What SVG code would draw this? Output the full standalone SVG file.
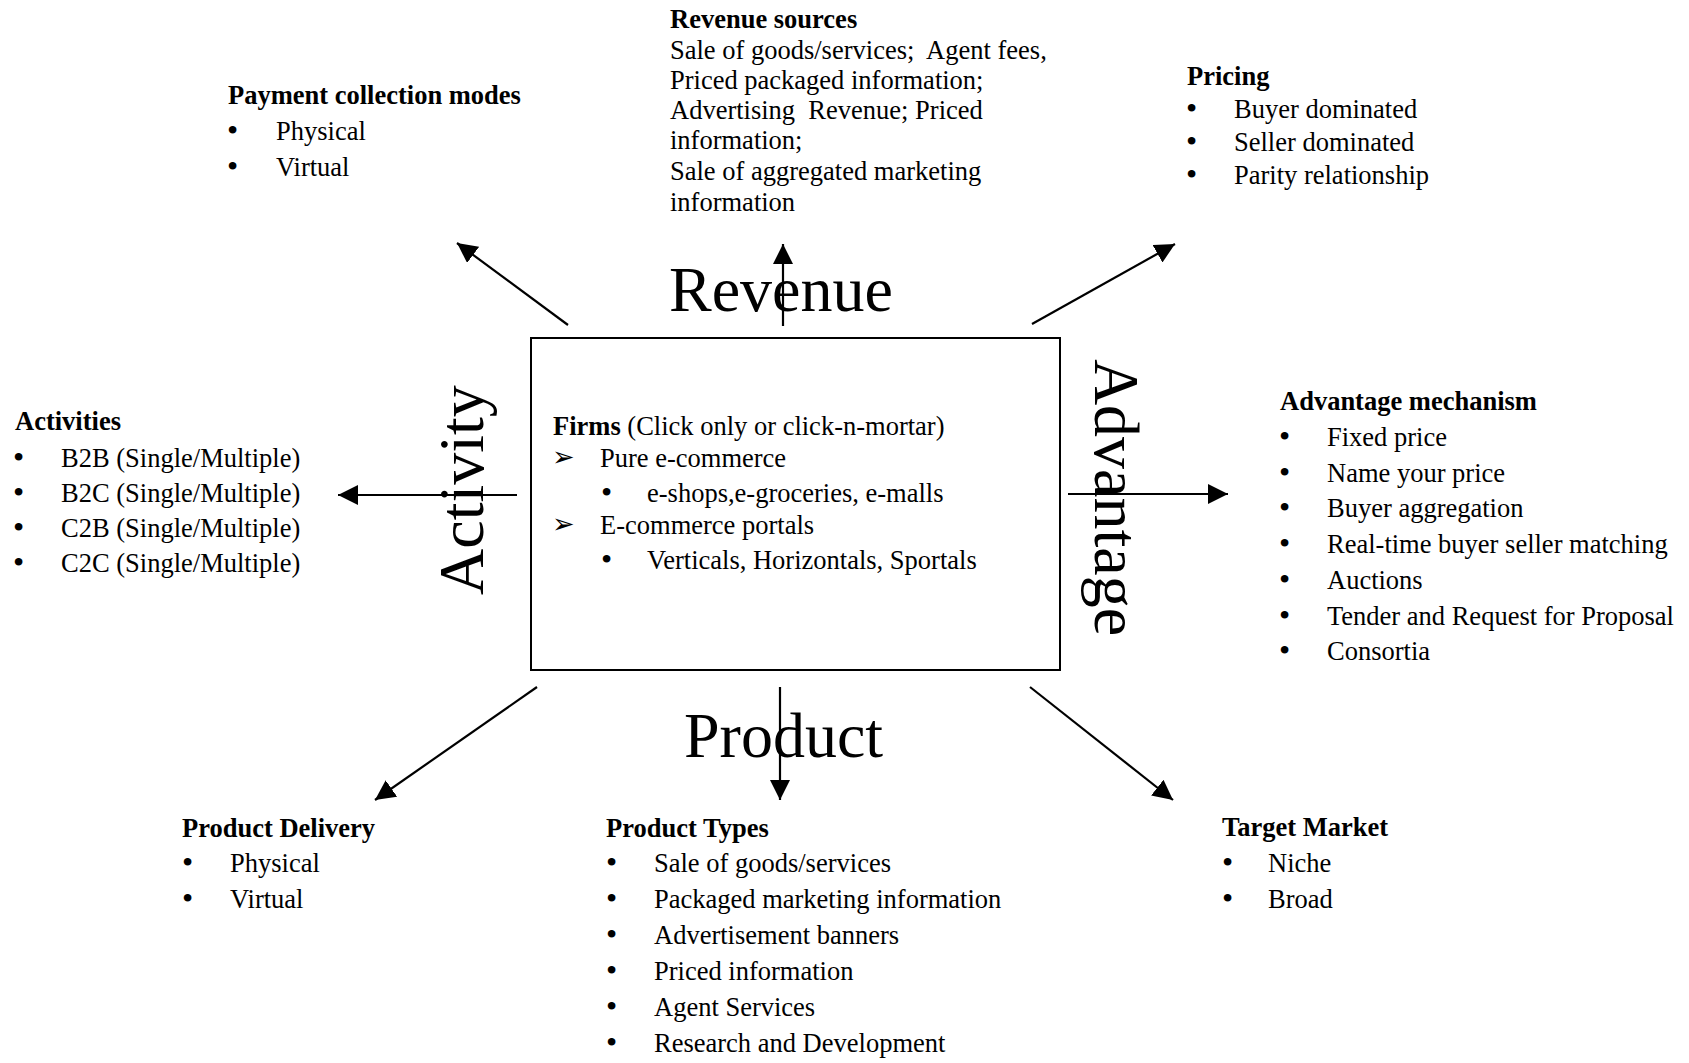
<svg xmlns="http://www.w3.org/2000/svg" width="1689" height="1063" viewBox="0 0 1689 1063">
<style>
text{font-family:"Liberation Serif","Times New Roman",serif;font-size:26.5px;fill:#000}
.h{font-weight:bold}
.big{font-size:64px}
.pre{white-space:pre}
.b{font-size:32px}
.ar{font-family:"DejaVu Sans",sans-serif;font-size:27px}
.conn line{stroke:#000;stroke-width:2.2;marker-end:url(#ah)}
</style>
<defs>
<marker id="ah" viewBox="0 0 20 20" refX="20" refY="10" markerWidth="20" markerHeight="20" markerUnits="userSpaceOnUse" orient="auto">
<path d="M0,0 L20,10 L0,20 z" fill="#000"/>
</marker>
</defs>
<rect width="1689" height="1063" fill="#fff"/>

<g id="firms">
<rect x="531" y="338" width="529" height="332" fill="none" stroke="#000" stroke-width="2"/>
<text x="553" y="435"><tspan class="h">Firms</tspan> (Click only or click-n-mortar)</text>
<text class="ar" x="552" y="466">➢</text>
<text x="600" y="466.5">Pure e-commerce</text>
<text class="b" x="601" y="503">•</text>
<text x="647" y="502">e-shops,e-groceries, e-malls</text>
<text class="ar" x="552" y="533">➢</text>
<text x="600" y="533.5">E-commerce portals</text>
<text class="b" x="601" y="570">•</text>
<text x="647" y="569">Verticals, Horizontals, Sportals</text>
</g>

<g id="label-revenue"><text class="big" x="669" y="311">Revenue</text></g>
<g id="label-product"><text class="big" x="684" y="757">Product</text></g>
<g id="label-activity"><text class="big" text-anchor="middle" transform="translate(483,490) rotate(-90)">Activity</text></g>
<g id="label-advantage"><text class="big" text-anchor="middle" transform="translate(1095,497.5) rotate(90)">Advantage</text></g>

<g class="conn" id="connectors">
<line x1="783" y1="326" x2="783" y2="244"/>
<line x1="780" y1="687" x2="780" y2="800"/>
<line x1="517" y1="495" x2="338" y2="495"/>
<line x1="1068" y1="494" x2="1228" y2="494"/>
<line x1="568" y1="325" x2="457" y2="243"/>
<line x1="1032" y1="324" x2="1175" y2="244"/>
<line x1="537" y1="687" x2="375" y2="800"/>
<line x1="1030" y1="687" x2="1173" y2="800"/>
</g>

<g id="payment">
<text class="h" x="228" y="104">Payment collection modes</text>
<text class="b" x="227" y="140.5">•</text><text x="276" y="139.5">Physical</text>
<text class="b" x="227" y="176.5">•</text><text x="276" y="175.5">Virtual</text>
</g>

<g id="revenue-sources">
<text class="h" x="670" y="28">Revenue sources</text>
<text class="pre" x="670" y="58.5">Sale of goods/services;  Agent fees,</text>
<text x="670" y="88.5">Priced packaged information;</text>
<text class="pre" x="670" y="119">Advertising  Revenue; Priced</text>
<text x="670" y="149">information;</text>
<text x="670" y="180">Sale of aggregated marketing</text>
<text x="670" y="210.5">information</text>
</g>

<g id="pricing">
<text class="h" x="1187" y="84.5">Pricing</text>
<text class="b" x="1186" y="118.5">•</text><text x="1234" y="117.5">Buyer dominated</text>
<text class="b" x="1186" y="151.5">•</text><text x="1234" y="150.5">Seller dominated</text>
<text class="b" x="1186" y="184.5">•</text><text x="1234" y="183.5">Parity relationship</text>
</g>

<g id="activities">
<text class="h" x="15" y="430">Activities</text>
<text class="b" x="13" y="467.5">•</text><text x="61" y="466.5">B2B (Single/Multiple)</text>
<text class="b" x="13" y="502.5">•</text><text x="61" y="501.5">B2C (Single/Multiple)</text>
<text class="b" x="13" y="537.5">•</text><text x="61" y="536.5">C2B (Single/Multiple)</text>
<text class="b" x="13" y="572.5">•</text><text x="61" y="571.5">C2C (Single/Multiple)</text>
</g>

<g id="advantage-mechanism">
<text class="h" x="1280" y="410">Advantage mechanism</text>
<text class="b" x="1279" y="447">•</text><text x="1327" y="446">Fixed price</text>
<text class="b" x="1279" y="482.5">•</text><text x="1327" y="481.5">Name your price</text>
<text class="b" x="1279" y="518">•</text><text x="1327" y="517">Buyer aggregation</text>
<text class="b" x="1279" y="553.5">•</text><text x="1327" y="552.5">Real-time buyer seller matching</text>
<text class="b" x="1279" y="589.5">•</text><text x="1327" y="588.5">Auctions</text>
<text class="b" x="1279" y="625.5">•</text><text x="1327" y="624.5">Tender and Request for Proposal</text>
<text class="b" x="1279" y="661">•</text><text x="1327" y="660">Consortia</text>
</g>

<g id="product-delivery">
<text class="h" x="182" y="837">Product Delivery</text>
<text class="b" x="182" y="873">•</text><text x="230" y="872">Physical</text>
<text class="b" x="182" y="908.5">•</text><text x="230" y="907.5">Virtual</text>
</g>

<g id="product-types">
<text class="h" x="606" y="837">Product Types</text>
<text class="b" x="606" y="873">•</text><text x="654" y="872">Sale of goods/services</text>
<text class="b" x="606" y="908.5">•</text><text x="654" y="907.5">Packaged marketing information</text>
<text class="b" x="606" y="945">•</text><text x="654" y="944">Advertisement banners</text>
<text class="b" x="606" y="981">•</text><text x="654" y="980">Priced information</text>
<text class="b" x="606" y="1016.5">•</text><text x="654" y="1015.5">Agent Services</text>
<text class="b" x="606" y="1052.5">•</text><text x="654" y="1051.5">Research and Development</text>
</g>

<g id="target-market">
<text class="h" x="1222" y="836">Target Market</text>
<text class="b" x="1222" y="873">•</text><text x="1268" y="872">Niche</text>
<text class="b" x="1222" y="909">•</text><text x="1268" y="908">Broad</text>
</g>
</svg>
